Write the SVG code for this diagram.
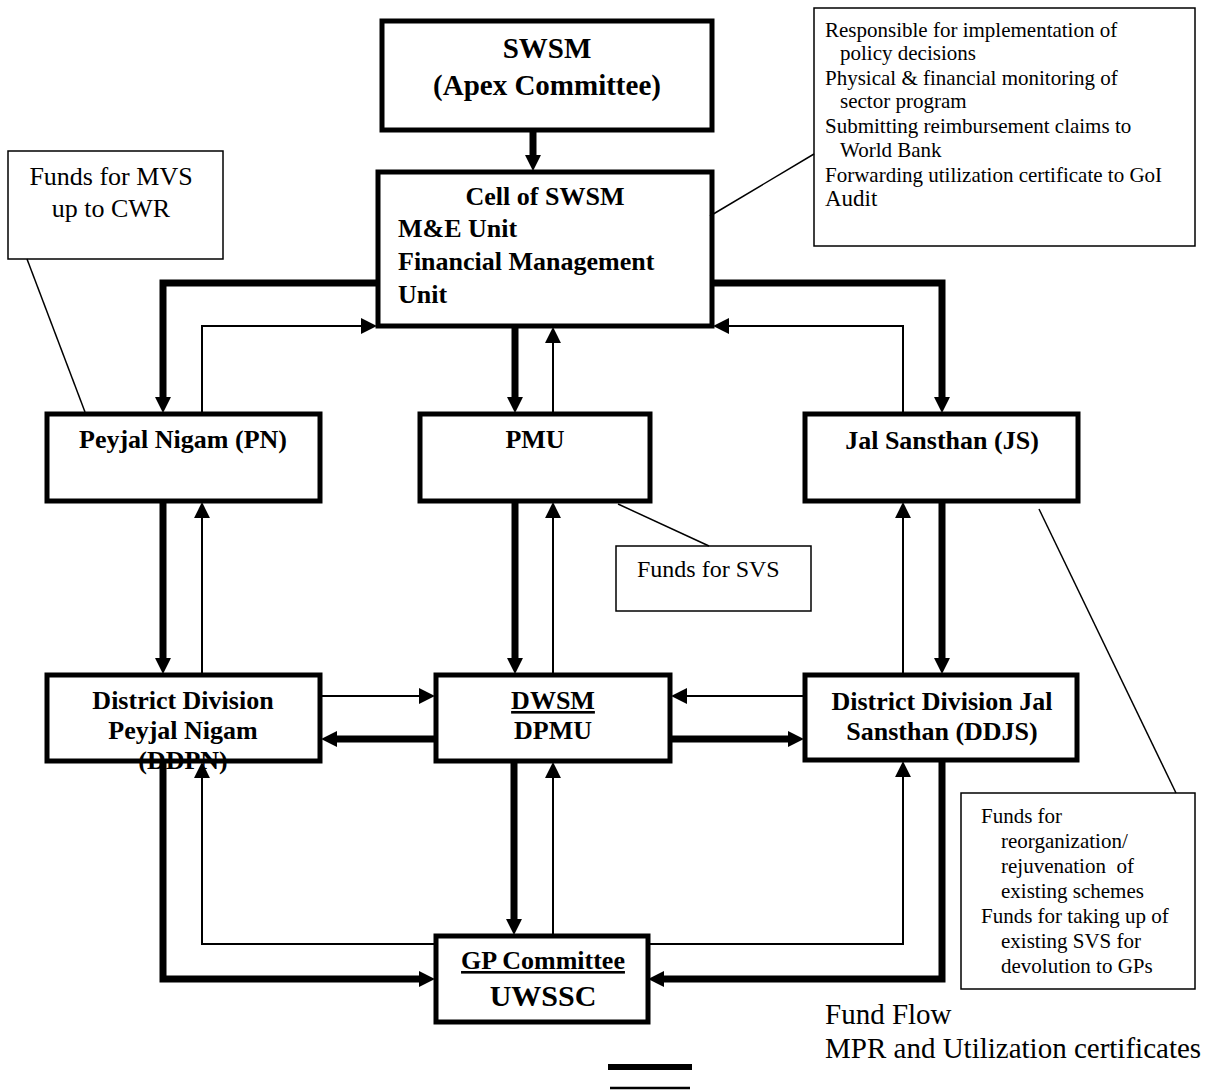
<svg xmlns="http://www.w3.org/2000/svg" width="1217" height="1091" viewBox="0 0 1217 1091">
<style>
text{font-family:"Liberation Serif","Times New Roman",serif;fill:#000}
.n{fill:#fff;stroke:#000;stroke-width:5}
.c{fill:#fff;stroke:#000;stroke-width:1.5}
.b{font-weight:bold;font-size:26px}
.r{font-size:21px}
.thick{fill:none;stroke:#000;stroke-width:7;marker-end:url(#ah)}
.thin{fill:none;stroke:#000;stroke-width:2;marker-end:url(#ah)}
.lead{fill:none;stroke:#000;stroke-width:1.5}
</style>
<defs>
<marker id="ah" markerUnits="userSpaceOnUse" markerWidth="16" markerHeight="16" viewBox="0 0 15 15" refX="1" refY="7.5" orient="auto">
<path d="M0,0 L15,7.5 L0,15 z" fill="#000"/>
</marker>
</defs>

<g id="swsm">
<rect class="n" x="382" y="21" width="330" height="109"/>
<text x="547" y="58" text-anchor="middle" font-weight="bold" font-size="29">SWSM</text>
<text x="547" y="95" text-anchor="middle" font-weight="bold" font-size="29">(Apex Committee)</text>
</g>

<g id="cell">
<rect class="n" x="378" y="172" width="334" height="154"/>
<text class="b" x="545" y="205" text-anchor="middle">Cell of SWSM</text>
<text class="b" x="398" y="237">M&amp;E Unit</text>
<text class="b" x="398" y="270">Financial Management</text>
<text class="b" x="398" y="303">Unit</text>
</g>

<g id="note-cell">
<rect class="c" x="814" y="8" width="381" height="238"/>
<text class="r" x="825" y="37">Responsible for implementation of</text>
<text class="r" x="840" y="60">policy decisions</text>
<text class="r" x="825" y="85">Physical &amp; financial monitoring of</text>
<text class="r" x="840" y="108">sector program</text>
<text class="r" x="825" y="133">Submitting reimbursement claims to</text>
<text class="r" x="840" y="157">World Bank</text>
<text class="r" x="825" y="182">Forwarding utilization certificate to GoI</text>
<text x="825" y="206" font-size="23">Audit</text>
</g>

<g id="note-mvs">
<rect class="c" x="8" y="151" width="215" height="108"/>
<text x="111" y="185" text-anchor="middle" font-size="26">Funds for MVS</text>
<text x="111" y="217" text-anchor="middle" font-size="26">up to CWR</text>
</g>

<g id="pn">
<rect class="n" x="47" y="414" width="273" height="87"/>
<text class="b" x="183" y="448" text-anchor="middle">Peyjal Nigam (PN)</text>
</g>

<g id="pmu">
<rect class="n" x="420" y="414" width="230" height="87"/>
<text class="b" x="535" y="448" text-anchor="middle">PMU</text>
</g>

<g id="js">
<rect class="n" x="805" y="414" width="273" height="87"/>
<text class="b" x="942" y="449" text-anchor="middle">Jal Sansthan (JS)</text>
</g>

<g id="note-svs">
<rect class="c" x="616" y="546" width="195" height="65"/>
<text x="637" y="577" font-size="24">Funds for SVS</text>
</g>

<g id="ddpn">
<rect class="n" x="47" y="675" width="273" height="86"/>
<text class="b" x="183" y="709" text-anchor="middle">District Division</text>
<text class="b" x="183" y="739" text-anchor="middle">Peyjal Nigam</text>
<text class="b" x="183" y="769" text-anchor="middle">(DDPN)</text>
</g>

<g id="dwsm">
<rect class="n" x="436" y="675" width="234" height="86"/>
<text class="b" x="553" y="709" text-anchor="middle" text-decoration="underline">DWSM</text>
<text class="b" x="553" y="739" text-anchor="middle">DPMU</text>
</g>

<g id="ddjs">
<rect class="n" x="805" y="675" width="272" height="85"/>
<text class="b" x="942" y="710" text-anchor="middle">District Division Jal</text>
<text class="b" x="942" y="740" text-anchor="middle">Sansthan (DDJS)</text>
</g>

<g id="note-js">
<rect class="c" x="961" y="793" width="234" height="196"/>
<text class="r" x="981" y="823">Funds for</text>
<text class="r" x="1001" y="848">reorganization/</text>
<text class="r" x="1001" y="873" xml:space="preserve">rejuvenation  of</text>
<text class="r" x="1001" y="898">existing schemes</text>
<text class="r" x="981" y="923">Funds for taking up of</text>
<text class="r" x="1001" y="948">existing SVS for</text>
<text class="r" x="1001" y="973">devolution to GPs</text>
</g>

<g id="gp">
<rect class="n" x="436" y="936" width="212" height="86"/>
<text class="b" x="543" y="969" text-anchor="middle" text-decoration="underline">GP Committee</text>
<text x="543" y="1006" text-anchor="middle" font-weight="bold" font-size="30">UWSSC</text>
</g>

<g id="connectors">
<path class="thick" d="M533,132 V156" stroke-width="8"/>
<path class="thick" d="M378,283 H163 V398"/>
<path class="thin" d="M202,412 V326 H362"/>
<path class="thick" d="M712,283 H942 V398"/>
<path class="thin" d="M903,412 V326 H728"/>
<path class="thick" d="M515,328 V398"/>
<path class="thin" d="M553,412 V342"/>
<path class="thick" d="M163,503 V659"/>
<path class="thin" d="M202,673 V517"/>
<path class="thick" d="M515,503 V659"/>
<path class="thin" d="M553,673 V517"/>
<path class="thick" d="M942,503 V659"/>
<path class="thin" d="M903,673 V517"/>
<path class="thin" d="M322,696 H420"/>
<path class="thick" d="M434,739 H336"/>
<path class="thin" d="M803,696 H686"/>
<path class="thick" d="M672,739 H789"/>
<path class="thick" d="M514,763 V920"/>
<path class="thin" d="M553,934 V777"/>
<path class="thick" d="M163,763 V979 H420"/>
<path class="thin" d="M434,944 H202 V777"/>
<path class="thin" d="M649,944 H903 V776"/>
<path class="thick" d="M942,762 V979 H663"/>
<path class="lead" d="M27,259 L85,412"/>
<path class="lead" d="M710,216 L814,154"/>
<path class="lead" d="M618,504 L709,546"/>
<path class="lead" d="M1039,509 L1176,793"/>
</g>

<g id="legend">
<text x="825" y="1024" font-size="29">Fund Flow</text>
<text x="825" y="1058" font-size="29">MPR and Utilization certificates</text>
<line x1="608" y1="1067" x2="692" y2="1067" stroke="#000" stroke-width="6"/>
<line x1="610" y1="1088" x2="690" y2="1088" stroke="#000" stroke-width="2.5"/>
</g>
</svg>
